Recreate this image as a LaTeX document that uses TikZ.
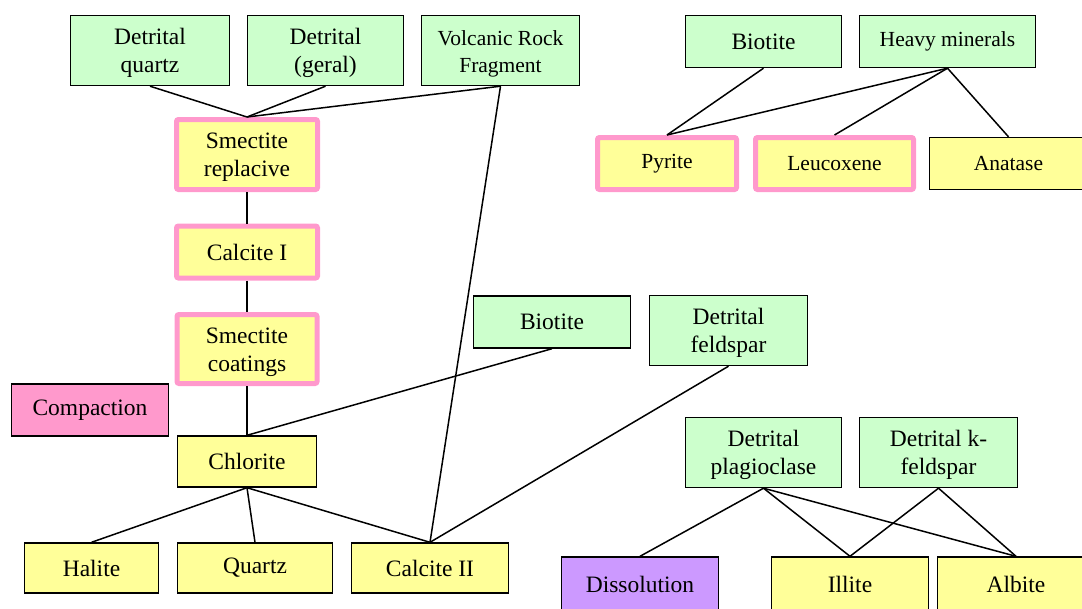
\documentclass[tikz,border=0pt]{standalone}
\usepackage{fontspec}
\setmainfont{Liberation Serif}

\definecolor{mineralgreen}{HTML}{CCFFCC}
\definecolor{phaseyellow}{HTML}{FFFF99}
\definecolor{framepink}{HTML}{FF99CC}
\definecolor{processlilac}{HTML}{CC99FF}

\tikzset{
  box/.style={draw=black, line width=1.4pt, inner sep=0pt, align=center,
    font=\fontsize{23.5}{28}\selectfont},
  smalltext/.style={font=\fontsize{21.5}{27.5}\selectfont},
  twoline/.style={text height=50pt, text depth=6pt},
  detrital/.style={box, fill=mineralgreen},
  authigenic/.style={box, fill=phaseyellow},
  framed/.style={box, fill=phaseyellow, draw=framepink, line width=5pt, rounded corners=2pt},
  link/.style={draw=black, line width=1.5pt}
}

\begin{document}
\begin{tikzpicture}[x=1pt, y=-1pt]
        \useasboundingbox (0,0) rectangle (1082,608);

        % Detrital grains (top left)
        \node[detrital, twoline, minimum width=159pt, minimum height=70pt] (dq) at (150, 50.5) {Detrital\\quartz};
        \node[detrital, twoline, minimum width=156pt, minimum height=70pt] (dg) at (325.5, 50.5) {Detrital\\(geral)};
        \node[detrital, smalltext, twoline, minimum width=158pt, minimum height=70pt] (vrf) at (500.5, 50.5) {Volcanic Rock\\Fragment};

        % Main sequence
        \node[framed, twoline, minimum width=141pt, minimum height=70pt] (smr) at (247, 154.5) {Smectite\\replacive};
        \node[framed, minimum width=141pt, minimum height=52pt] (cal1) at (247, 252) {Calcite I};
        \node[framed, twoline, minimum width=140pt, minimum height=69pt] (smc) at (247, 349) {Smectite\\coatings};
        \node[box, fill=framepink, minimum width=157pt, minimum height=52pt] (comp) at (90, 410) {Compaction};
        \node[authigenic, minimum width=139pt, minimum height=51pt] (chl) at (247, 461.5) {Chlorite};

        % Late phases
        \node[authigenic, minimum width=134pt, minimum height=50pt] (hal) at (91.5, 568) {Halite};
        \node[authigenic, minimum width=155pt, minimum height=50pt] (qtz) at (255, 568) {Quartz};
        \node[authigenic, minimum width=157pt, minimum height=50pt] (cal2) at (430, 568) {Calcite II};

        % Middle grains
        \node[detrital, minimum width=157pt, minimum height=52pt] (bio) at (552, 322) {Biotite};
        \node[detrital, twoline, minimum width=158pt, minimum height=70pt] (dfs) at (728.5, 330.5) {Detrital\\feldspar};

        % Feldspar alteration (bottom right)
        \node[detrital, twoline, minimum width=156pt, minimum height=70pt] (dpl) at (763.5, 452.5) {Detrital\\plagioclase};
        \node[detrital, twoline, minimum width=158pt, minimum height=70pt] (dkf) at (938.5, 452.5) {Detrital k-\\feldspar};
        \node[box, fill=processlilac, minimum width=157pt, minimum height=54pt] (dis) at (640, 584) {Dissolution};
        \node[authigenic, minimum width=157pt, minimum height=54pt] (ill) at (850, 584) {Illite};
        \node[authigenic, minimum width=157pt, minimum height=54pt] (alb) at (1016, 584) {Albite};

        % Heavy mineral alteration (top right)
        \node[detrital, minimum width=156pt, minimum height=52pt] (biot) at (763.5, 41.5) {Biotite};
        \node[detrital, smalltext, minimum width=176pt, minimum height=52pt] (hvm) at (947.5, 41.5) {Heavy minerals};
        \node[framed, smalltext, minimum width=139pt, minimum height=52pt] (pyr) at (667, 163.5) {Pyrite};
        \node[framed, smalltext, minimum width=158pt, minimum height=52pt] (leu) at (834.5, 163.5) {Leucoxene};
        \node[authigenic, smalltext, minimum width=158pt, minimum height=52pt] (ana) at (1008.5, 163.5) {Anatase};

        % Links
        \draw[link] (dq.south) -- (smr.north);
        \draw[link] (dg.south) -- (smr.north);
        \draw[link] (vrf.south) -- (smr.north);
        \draw[link] (vrf.south) -- (cal2.north);
        \draw[link] (smr.south) -- (cal1.north);
        \draw[link] (cal1.south) -- (smc.north);
        \draw[link] (smc.south) -- (chl.north);
        \draw[link] (bio.south) -- (chl.north);
        \draw[link] (chl.south) -- (hal.north);
        \draw[link] (chl.south) -- (qtz.north);
        \draw[link] (chl.south) -- (cal2.north);
        \draw[link] (dfs.south) -- (cal2.north);

        \draw[link] (dpl.south) -- (dis.north);
        \draw[link] (dpl.south) -- (ill.north);
        \draw[link] (dpl.south) -- (alb.north);
        \draw[link] (dkf.south) -- (ill.north);
        \draw[link] (dkf.south) -- (alb.north);

        \draw[link] (biot.south) -- (pyr.north);
        \draw[link] (hvm.south) -- (pyr.north);
        \draw[link] (hvm.south) -- (leu.north);
        \draw[link] (hvm.south) -- (ana.north);
    \end{tikzpicture}
\end{document}
